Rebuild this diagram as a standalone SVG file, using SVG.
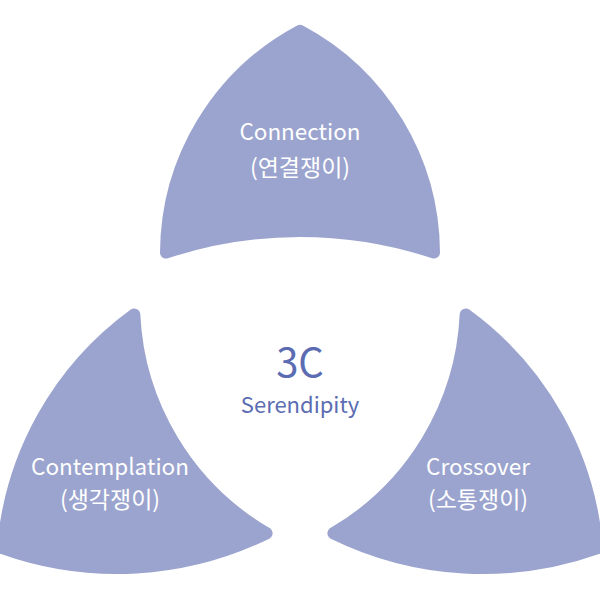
<svg xmlns="http://www.w3.org/2000/svg" width="600" height="600" viewBox="0 0 600 600">
  <style>
    .petal { fill: #9ba4ce; stroke: #9ba4ce; stroke-width: 12; stroke-linejoin: round; }
    .lbl { font-family: "Noto Sans CJK KR", "Noto Sans", sans-serif; font-size: 22.5px; fill: #ffffff; text-anchor: middle; }
    .kr { font-size: 23px; }
    .ctr { font-family: "Noto Sans CJK KR", "Noto Sans", sans-serif; fill: #5b6cb2; text-anchor: middle; }
  </style>
  <rect width="600" height="600" fill="#ffffff"/>
  <g id="connection">
    <path class="petal" d="M 300,30.7 A 253 253 0 0 1 434,252.6 A 426 426 0 0 0 166,252.6 A 253 253 0 0 1 300,30.7 Z"/>
    <text class="lbl" x="300" y="140">Connection</text>
    <text class="lbl kr" x="300" y="176">(연결쟁이)</text>
  </g>
  <g id="contemplation">
    <path class="petal" d="M 134.3,314.4 A 321 321 0 0 0 3,548.4 A 340 340 0 0 0 266.6,533.3 A 268 268 0 0 1 134.3,314.4 Z"/>
    <text class="lbl" x="110" y="475">Contemplation</text>
    <text class="lbl kr" x="110" y="508">(생각쟁이)</text>
  </g>
  <g id="crossover">
    <path class="petal" d="M 465.7,314.4 A 321 321 0 0 1 597,548.4 A 340 340 0 0 1 333.4,533.3 A 268 268 0 0 0 465.7,314.4 Z"/>
    <text class="lbl" x="478" y="475">Crossover</text>
    <text class="lbl kr" x="478" y="508">(소통쟁이)</text>
  </g>
  <g id="center">
    <text class="ctr" x="300" y="377" font-size="40">3C</text>
    <text class="ctr" x="300" y="413" font-size="22">Serendipity</text>
  </g>
  <g id="connectors"></g>
</svg>
